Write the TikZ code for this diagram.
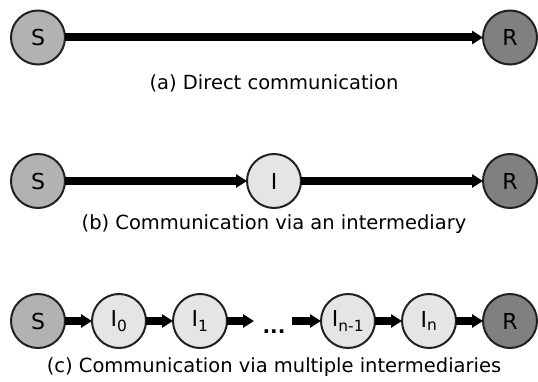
\documentclass[tikz,border=0pt]{standalone}
\usepackage{fontspec}
\setmainfont{DejaVu Sans}
\usetikzlibrary{arrows.meta}

\begin{document}
\begin{tikzpicture}[x=1pt,y=1pt,
    station/.style={circle, draw=black!87, line width=2pt, minimum size=54pt,
        inner sep=0pt, outer sep=0pt, font=\fontsize{22}{22}\selectfont},
    sender/.style={station, fill=black!30},
    receiver/.style={station, fill=black!50},
    relay/.style={station, fill=black!10},
    hop/.style={line width=8pt, -{Triangle[length=11pt,width=13pt]}},
    caption/.style={anchor=base, font=\fontsize{19.5}{20}\selectfont}]
    \useasboundingbox (0,0) rectangle (538,381);

    % (a) sender straight to receiver
    \node[sender] (a-S) at (38,343.5) {S};
    \node[receiver] (a-R) at (510,343.5) {R};
    \draw[hop] (a-S) -- (a-R);
    \node[caption] (a-cap) at (274,291) {(a) Direct communication};

    % (b) one relay in the middle
    \node[sender] (b-S) at (38,200) {S};
    \node[relay] (b-I) at (274,200) {I};
    \node[receiver] (b-R) at (510,200) {R};
    \draw[hop] (b-S) -- (b-I);
    \draw[hop] (b-I) -- (b-R);
    \node[caption] (b-cap) at (274,152) {(b) Communication via an intermediary};

    % (c) chain of relays
    \node[sender] (c-S) at (38,60) {S};
    \foreach \name/\x/\sub in {I0/119/0, I1/200/1, In1/348/n-1, In/429/n} {
        % relay with its index
        \node[relay] (c-\name) at (\x,60) {I\textsubscript{\sub}};
    }
    \node[receiver] (c-R) at (510,60) {R};
    \foreach \from/\to in {S/I0, I0/I1, In1/In, In/R} {
        \draw[hop] (c-\from) -- (c-\to);
    }
    % the gap between I_1 and I_{n-1}
    \coordinate (c-gapL) at (254,60);
    \coordinate (c-gapR) at (292,60);
    \draw[hop] (c-I1) -- (c-gapL);
    \draw[hop] (c-gapR) -- (c-In1);
    \node[anchor=base, font=\fontsize{20}{20}\selectfont\bfseries] (c-dots) at (274,48) {...};
    \node[caption] (c-cap) at (274,9) {(c) Communication via multiple intermediaries};
\end{tikzpicture}
\end{document}
